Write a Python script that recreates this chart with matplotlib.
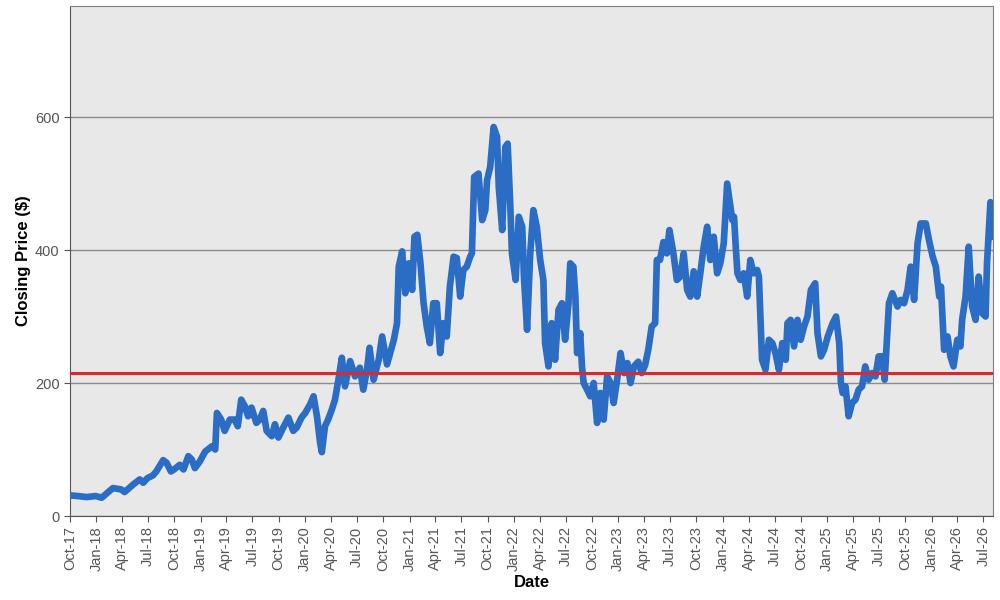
import matplotlib
matplotlib.use("Agg")
import matplotlib.pyplot as plt
import matplotlib.dates as mdates
import pandas as pd

# closing prices (turning points)
dates = [
    "2017-10-01", "2017-10-29", "2017-11-28", "2017-12-30", "2018-01-20", "2018-02-28",
    "2018-03-29", "2018-04-10", "2018-05-09", "2018-06-02", "2018-06-14", "2018-06-29",
    "2018-07-18", "2018-07-30", "2018-08-23", "2018-09-04", "2018-09-19", "2018-09-30",
    "2018-10-20", "2018-11-02", "2018-11-19", "2018-12-01", "2018-12-12", "2018-12-29",
    "2019-01-17", "2019-02-10", "2019-02-21", "2019-02-27", "2019-03-14", "2019-03-26",
    "2019-04-13", "2019-04-30", "2019-05-11", "2019-05-23", "2019-06-05", "2019-06-16",
    "2019-06-28", "2019-07-15", "2019-07-27", "2019-08-08", "2019-08-20", "2019-09-07",
    "2019-09-18", "2019-09-30", "2019-10-17", "2019-11-04", "2019-11-21", "2019-12-03",
    "2019-12-20", "2020-01-02", "2020-01-19", "2020-01-31", "2020-02-12", "2020-02-23",
    "2020-02-29", "2020-03-11", "2020-03-22", "2020-04-04", "2020-04-15", "2020-04-27",
    "2020-05-09", "2020-05-20", "2020-06-07", "2020-06-24", "2020-07-11", "2020-07-23",
    "2020-08-05", "2020-08-14", "2020-08-28", "2020-09-15", "2020-09-27", "2020-10-14",
    "2020-10-25", "2020-11-07", "2020-11-18", "2020-11-24", "2020-12-06", "2020-12-17",
    "2020-12-29", "2021-01-10", "2021-01-18", "2021-01-28", "2021-02-08", "2021-02-19",
    "2021-03-02", "2021-03-13", "2021-03-25", "2021-04-06", "2021-04-18", "2021-04-29",
    "2021-05-11", "2021-05-22", "2021-06-04", "2021-06-15", "2021-06-27", "2021-07-08",
    "2021-07-20", "2021-08-01", "2021-08-07", "2021-08-15", "2021-08-30", "2021-09-12",
    "2021-09-23", "2021-09-29", "2021-10-10", "2021-10-22", "2021-11-03", "2021-11-09",
    "2021-11-21", "2021-12-02", "2021-12-10", "2021-12-19", "2021-12-25", "2022-01-07",
    "2022-01-18", "2022-01-30", "2022-02-05", "2022-02-16", "2022-02-27", "2022-03-10",
    "2022-03-22", "2022-04-03", "2022-04-14", "2022-04-20", "2022-05-02", "2022-05-13",
    "2022-05-25", "2022-06-06", "2022-06-18", "2022-06-29", "2022-07-11", "2022-07-17",
    "2022-07-28", "2022-08-04", "2022-08-10", "2022-08-21", "2022-08-27", "2022-09-02",
    "2022-09-14", "2022-09-25", "2022-10-07", "2022-10-19", "2022-10-30", "2022-11-11",
    "2022-11-23", "2022-12-05", "2022-12-16", "2022-12-28", "2023-01-09", "2023-01-21",
    "2023-02-02", "2023-02-13", "2023-02-25", "2023-03-12", "2023-03-24", "2023-04-05",
    "2023-04-16", "2023-04-28", "2023-05-10", "2023-05-16", "2023-05-27", "2023-06-08",
    "2023-06-20", "2023-06-29", "2023-07-13", "2023-07-25", "2023-08-06", "2023-08-18",
    "2023-08-30", "2023-09-10", "2023-09-22", "2023-10-04", "2023-10-15", "2023-10-27",
    "2023-11-08", "2023-11-19", "2023-12-01", "2023-12-13", "2023-12-24", "2024-01-05",
    "2024-01-17", "2024-02-04", "2024-02-10", "2024-02-16", "2024-02-22", "2024-03-03",
    "2024-03-15", "2024-03-27", "2024-04-07", "2024-04-19", "2024-05-01", "2024-05-07",
    "2024-05-18", "2024-05-30", "2024-06-11", "2024-06-23", "2024-07-04", "2024-07-16",
    "2024-07-28", "2024-08-09", "2024-08-15", "2024-08-26", "2024-09-07", "2024-09-19",
    "2024-09-30", "2024-10-12", "2024-10-24", "2024-11-05", "2024-11-20", "2024-11-28",
    "2024-12-10", "2024-12-21", "2025-01-03", "2025-01-20", "2025-02-01", "2025-02-12",
    "2025-02-18", "2025-02-24", "2025-03-06", "2025-03-17", "2025-03-29", "2025-04-10",
    "2025-04-21", "2025-05-03", "2025-05-14", "2025-05-26", "2025-06-07", "2025-06-19",
    "2025-06-30", "2025-07-12", "2025-07-21", "2025-08-05", "2025-08-17", "2025-09-04",
    "2025-09-15", "2025-09-27", "2025-10-09", "2025-10-20", "2025-11-01", "2025-11-13",
    "2025-11-24", "2025-12-12", "2025-12-23", "2026-01-05", "2026-01-16", "2026-01-28",
    "2026-02-03", "2026-02-14", "2026-02-26", "2026-03-08", "2026-03-19", "2026-04-01",
    "2026-04-12", "2026-04-18", "2026-04-30", "2026-05-11", "2026-05-23", "2026-06-04",
    "2026-06-15", "2026-06-27", "2026-07-09", "2026-07-14", "2026-07-26", "2026-08-03",
]
prices = [
    31, 30, 28.5, 30, 27.5, 42,
    40, 36, 47, 55, 50, 57,
    61, 67, 84, 80, 67, 70,
    77, 70, 90, 85, 72, 82,
    97, 105, 100, 155, 145, 128,
    145, 145, 135, 175, 165, 150,
    163, 140, 145, 158, 128, 120,
    138, 118, 133, 148, 128, 133,
    148, 155, 168, 180, 150, 110,
    96, 135, 145, 160, 175, 205,
    238, 195, 233, 210, 223, 190,
    220, 253, 205, 235, 270, 228,
    245, 265, 290, 375, 398, 335,
    380, 340, 420, 423, 380, 320,
    285, 260, 320, 320, 245, 290,
    270, 345, 390, 388, 330, 370,
    375, 390, 395, 510, 515, 445,
    460, 505, 525, 585, 570, 495,
    430, 555, 560, 470, 395, 355,
    450, 435, 360, 280, 395, 460,
    435, 385, 355, 260, 225, 290,
    235, 310, 320, 265, 320, 380,
    375, 330, 245, 275, 225, 200,
    190, 180, 200, 140, 185, 145,
    210, 200, 170, 205, 245, 215,
    230, 200, 225, 232, 215, 227,
    250, 285, 290, 385, 385, 412,
    395, 430, 395, 355, 360, 395,
    340, 330, 368, 330, 365, 405,
    435, 385, 420, 365, 380, 410,
    500, 445, 450, 405, 365, 355,
    365, 330, 385, 365, 370, 360,
    235, 220, 265, 260, 245, 220,
    260, 235, 290, 295, 255, 295,
    265, 285, 300, 340, 350, 275,
    240, 250, 270, 290, 300, 260,
    200, 185, 195, 150, 170, 175,
    190, 195, 225, 205, 215, 210,
    240, 240, 205, 320, 335, 315,
    325, 320, 340, 375, 325, 410,
    440, 440, 415, 390, 375, 330,
    345, 250, 270, 240, 225, 265,
    255, 295, 330, 405, 315, 295,
    360, 305, 300, 380, 472, 420,
]
threshold = 215

x = pd.to_datetime(dates)

fig = plt.figure(figsize=(10, 6), dpi=100)
ax = fig.add_axes([0.07, 0.14, 0.923, 0.85])
ax.set_facecolor("#E8E8E8")

ax.plot(x, prices, color="#2B6CC4", linewidth=4.8, solid_joinstyle="round", zorder=3)
ax.axhline(threshold, color="#E3262B", linewidth=2.2, zorder=4)

ax.set_ylim(0, 767)
ax.set_yticks([0, 200, 400, 600])
ax.set_xlim(pd.Timestamp("2017-10-01"), pd.Timestamp("2026-08-04"))
ax.xaxis.set_major_locator(mdates.MonthLocator(bymonth=[1, 4, 7, 10]))
ax.xaxis.set_major_formatter(mdates.DateFormatter("%b-%y"))
plt.xticks(rotation=90)

ax.yaxis.grid(True, color="#8C8C8C", linewidth=1)
ax.set_axisbelow(True)
for s in ax.spines.values():
    s.set_color("#808080")
ax.spines["left"].set_color("#555555")
ax.spines["bottom"].set_color("#555555")
ax.tick_params(axis="both", colors="#555555", labelsize=10.5, length=4, labelcolor="#555555")

fam = ["Liberation Sans", "DejaVu Sans"]
ax.set_xlabel("Date", fontdict={"size": 12, "weight": "bold"}, labelpad=3, family=fam)
ax.set_ylabel("Closing Price ($)", fontdict={"size": 12, "weight": "bold"}, labelpad=3, family=fam)
for t in ax.get_xticklabels() + ax.get_yticklabels():
    t.set_fontfamily(fam)

plt.savefig("out.png", dpi=100)
